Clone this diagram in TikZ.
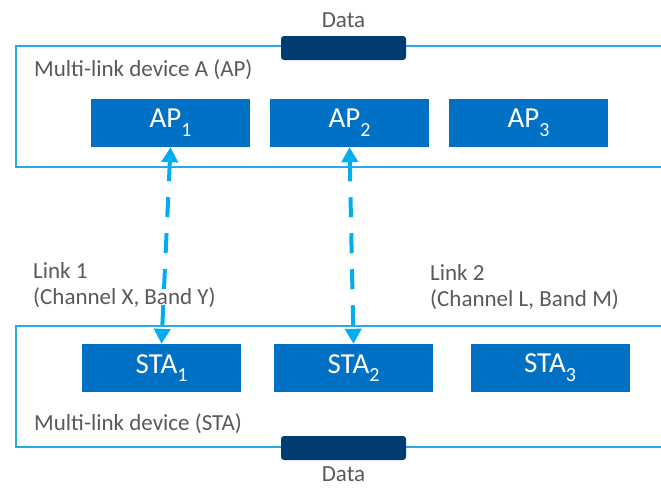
\documentclass[tikz,border=0pt]{standalone}
\usepackage{fontspec}
\setmainfont{Carlito}
\usetikzlibrary{arrows.meta}
\definecolor{boxblue}{HTML}{0071C5}
\definecolor{navy}{HTML}{003C71}
\definecolor{skyline}{HTML}{29ABE2}
\definecolor{arrowblue}{HTML}{00AEEF}
\definecolor{txtgray}{HTML}{595959}
\newcommand{\unitsub}[1]{\raisebox{-0.3em}{\fontsize{20}{20}\selectfont #1}}

\begin{document}
\begin{tikzpicture}[x=1pt,y=-1pt,
	frame_node/.style={draw=skyline,line width=1.8pt,anchor=north west,minimum width=700pt,inner sep=0pt},
	unit_node/.style={fill=boxblue,text=white,minimum width=159pt,minimum height=48pt,inner sep=0pt,font=\fontsize{29}{30}\selectfont},
	data_node/.style={fill=navy,rounded corners=3pt,minimum width=125pt,minimum height=24pt,inner sep=0pt},
	label_node/.style={text=txtgray,inner sep=0pt,font=\fontsize{23}{26}\selectfont},
	link_arrow/.style={draw=arrowblue,line width=4pt,dash pattern=on 20pt off 16pt,{Triangle[width=16pt,length=15pt]}-{Triangle[width=16pt,length=15pt]}}]

		\clip (0,0) rectangle (661,488);

		% the two multi-link devices
		\node[frame_node,minimum height=121pt] (mld_ap) at (15,45) {};
		\node[frame_node,minimum height=121pt] (mld_sta) at (15,325) {};

		\node[label_node,anchor=west] (mld_ap_txt) at (34,70) {Multi-link device A (AP)};
		\node[label_node,anchor=west] (mld_sta_txt) at (34,424) {Multi-link device (STA)};

		\node[unit_node] (ap1) at (170.5,123) {AP\unitsub{1}};
		\node[unit_node] (ap2) at (349.5,123) {AP\unitsub{2}};
		\node[unit_node] (ap3) at (528.5,123) {AP\unitsub{3}};

		\node[unit_node] (sta1) at (161.5,368) {STA\unitsub{1}};
		\node[unit_node] (sta2) at (353.5,368) {STA\unitsub{2}};
		\node[unit_node] (sta3) at (550,368) {STA\unitsub{3}};

		\node[data_node] (data_ap) at (343.5,48) {};
		\node[data_node] (data_sta) at (343.5,448) {};
		\node[label_node] (data_ap_txt) at (343.5,20) {Data};
		\node[label_node] (data_sta_txt) at (343.5,474) {Data};

		\node[label_node,align=left,anchor=north west] (link1) at (33,262) {Link 1\\(Channel X, Band Y)};
		\node[label_node,align=left,anchor=north west] (link2) at (430,264) {Link 2\\(Channel L, Band M)};

		\draw[link_arrow] (ap1.south) -- (sta1.north);
		\draw[link_arrow] (ap2.south) -- (sta2.north);
		\end{tikzpicture}
\end{document}
